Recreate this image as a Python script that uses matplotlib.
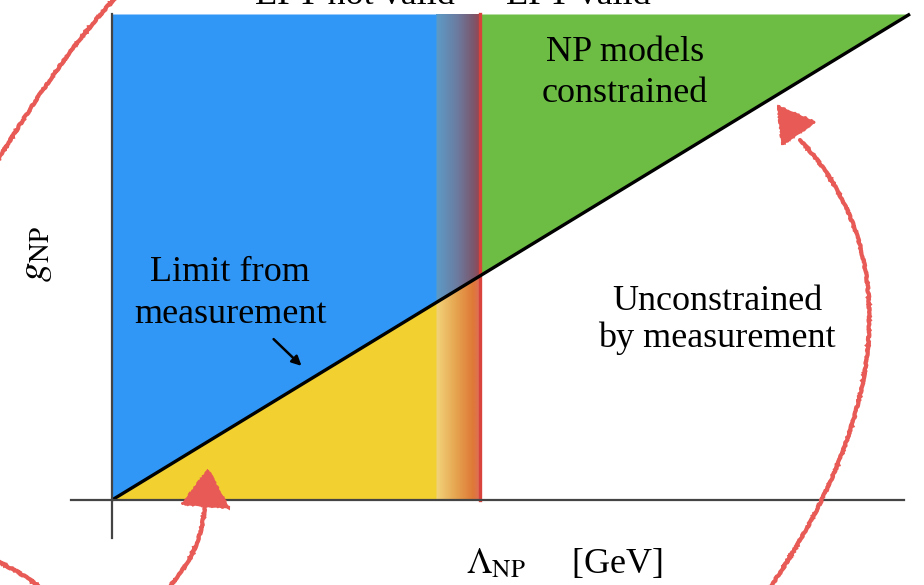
"""
EFT validity sketch: limit on g_NP versus Lambda_NP, with the region where
the EFT is not valid blended into the region where it is.
"""

import numpy as np
import matplotlib.pyplot as plt
from matplotlib.path import Path
from matplotlib.patches import PathPatch, Polygon
from matplotlib.transforms import Affine2D

plt.rcParams["font.family"] = ["Liberation Serif", "DejaVu Serif"]
plt.rcParams["mathtext.fontset"] = "stix"

W, H = 924, 585

# limit line g_NP = Lambda_NP in normalised units
limit_lam = [0.0, 1.0]
limit_g = [0.0, 1.0]
# EFT validity: blend starts at lam_blend, hard edge at lam_valid
lam_blend = 0.406
lam_valid = 0.461

BLUE = "#3097f6"
YELLOW = "#f2d030"
GREEN = "#6dbd45"
RED_EDGE = "#d8443c"
PEN = "#e85a55"

# colour stops across the blend band (fraction across band, rgb)
upper_stops = [(0.0, (92, 156, 200)), (0.5, (108, 122, 158)),
               (0.85, (122, 88, 110)), (1.0, (150, 70, 80))]
lower_stops = [(0.0, (242, 212, 122)), (0.45, (230, 165, 80)),
               (0.85, (222, 120, 55)), (1.0, (222, 112, 90))]

# hand-drawn pen strokes (cubic bezier control points, pixel coords from top-left)
stroke_right = [(800, 140), (895, 240), (900, 400), (767, 592)]
stroke_low = [(205, 505), (202, 540), (190, 565), (166, 590)]
stroke_topleft = [(118, -5), (80, 35), (40, 90), (-5, 165)]
stroke_botleft = [(-5, 560), (15, 570), (30, 578), (45, 592)]
head_right = [(778, 106), (782, 145), (815, 122)]
head_low = [(208, 470), (182, 504), (229, 508)]

fig = plt.figure(figsize=(W / 100, H / 100), dpi=100)
ax = fig.add_axes([0, 0, 1, 1])
ax.set_xlim(-112 / 798, 812 / 798)
ax.set_ylim(-85 / 486, 500 / 486)
ax.axis("off")

# regions
ax.fill_between([0, lam_blend], [0, lam_blend], 1, color=BLUE, lw=0)
ax.fill_between([0, lam_blend], 0, [0, lam_blend], color=YELLOW, lw=0)
ax.fill_between([lam_valid, 1], [lam_valid, 1], 1, color=GREEN, lw=0)


def ramp(stops, n):
    f = np.linspace(0, 1, n)
    pos = [s[0] for s in stops]
    return np.stack([np.interp(f, pos, [s[1][c] for s in stops]) for c in range(3)], -1) / 255


nx, ny = 80, 600
xs = np.linspace(lam_blend, lam_valid, nx)
ys = np.linspace(0, 1, ny)
up = ramp(upper_stops, nx)
lo = ramp(lower_stops, nx)
above = ys[:, None] >= xs[None, :]
img = np.where(above[..., None], up[None, :, :], lo[None, :, :])
ax.imshow(img, extent=[lam_blend, lam_valid, 0, 1], origin="lower",
          aspect="auto", interpolation="bilinear")
ax.plot([lam_valid, lam_valid], [0, 1], color=RED_EDGE, lw=2.4)

# limit line
ax.plot(limit_lam, limit_g, color="black", lw=2.4, solid_capstyle="butt")

# axes lines
ax.plot([-41 / 798, 792 / 798], [0, 0], color="#444444", lw=1.6)
ax.plot([0, 0], [-38 / 486, 1.0], color="#444444", lw=1.6)

# labels
fs = 26
ax.text(0.148, 0.425, "Limit from\nmeasurement", ha="center", va="center",
        fontsize=fs, linespacing=1.35)
ax.annotate("", xy=(0.24, 0.272), xytext=(0.2, 0.335),
            arrowprops=dict(arrowstyle="-|>", color="black", lw=1.8,
                            mutation_scale=14))
ax.text(0.643, 0.879, "NP models\nconstrained", ha="center", va="center",
        fontsize=fs, linespacing=1.3)
ax.text(0.758, 0.370, "Unconstrained\nby measurement", ha="center", va="center",
        fontsize=fs, linespacing=1.15)

fig.text(355 / W, 1 - 4 / H, "EFT not valid", ha="center", va="baseline", fontsize=fs)
fig.text(578 / W, 1 - 4 / H, "EFT valid", ha="center", va="baseline", fontsize=fs)
fig.text(564 / W, 1 - 564 / H, r"$\Lambda_{\rm NP}$     [GeV]", ha="center",
         va="center", fontsize=fs)
fig.text(35 / W, 1 - 254 / H, r"$g_{\rm NP}$", ha="center", va="center",
         rotation=90, fontsize=28)

# pen strokes
px = Affine2D().scale(1 / W, -1 / H).translate(0, 1) + fig.transFigure
codes = [Path.MOVETO, Path.CURVE4, Path.CURVE4, Path.CURVE4]
for pts in (stroke_right, stroke_low, stroke_topleft, stroke_botleft):
    patch = PathPatch(Path(pts, codes), transform=px, fill=False,
                      edgecolor=PEN, lw=3.0, capstyle="round", clip_on=False)
    patch.set_sketch_params(scale=0.6, length=5, randomness=20)
    fig.add_artist(patch)
for head in (head_right, head_low):
    tri = Polygon(head, closed=True, transform=px, facecolor=PEN,
                  edgecolor=PEN, lw=1.5, clip_on=False)
    tri.set_sketch_params(scale=0.6, length=5, randomness=20)
    fig.add_artist(tri)

fig.savefig("out.png", dpi=100)
